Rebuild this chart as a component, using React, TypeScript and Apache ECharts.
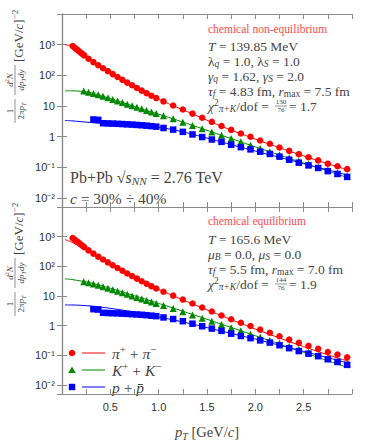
import React, { useEffect, useRef } from 'react';
import * as echarts from 'echarts';

// ---- experimental data (same in both panels) ----
const pionPt = [0.11, 0.13, 0.15, 0.17, 0.19, 0.21, 0.23, 0.275, 0.325, 0.375, 0.425, 0.475, 0.525, 0.575, 0.625, 0.675, 0.725, 0.775, 0.825, 0.875, 0.925, 0.975, 1.05, 1.15, 1.25, 1.35, 1.45, 1.55, 1.65, 1.75, 1.85, 1.95, 2.05, 2.15, 2.25, 2.35, 2.45, 2.55, 2.65, 2.75, 2.85, 2.95];
const pionYield = [900, 800, 710, 630, 560, 500, 445, 345, 268, 212, 170, 136, 109, 88, 71, 57.5, 47, 38.5, 31.5, 26, 21.5, 18, 14, 10.3, 7.6, 5.6, 4.1, 3.0, 2.2, 1.65, 1.26, 0.98, 0.74, 0.58, 0.44, 0.34, 0.265, 0.21, 0.166, 0.13, 0.107, 0.086];
const kaonPt = [0.225, 0.275, 0.325, 0.375, 0.425, 0.475, 0.525, 0.575, 0.625, 0.675, 0.725, 0.775, 0.825, 0.875, 0.925, 0.975, 1.05, 1.15, 1.25, 1.35, 1.45, 1.55, 1.65, 1.75, 1.85, 1.95, 2.05, 2.15, 2.25, 2.35, 2.45, 2.55, 2.65, 2.75, 2.85, 2.95];
const kaonYield = [30.5, 28, 25.5, 23, 20.5, 18.3, 16.3, 14.5, 12.9, 11.4, 10.1, 9.0, 8.0, 7.1, 6.3, 5.6, 4.8, 3.8, 2.95, 2.3, 1.8, 1.4, 1.09, 0.86, 0.67, 0.52, 0.41, 0.32, 0.255, 0.2, 0.16, 0.127, 0.1, 0.08, 0.064, 0.051];
const protonPt = [0.325, 0.375, 0.425, 0.475, 0.525, 0.575, 0.625, 0.675, 0.725, 0.775, 0.825, 0.875, 0.925, 0.975, 1.05, 1.15, 1.25, 1.35, 1.45, 1.55, 1.65, 1.75, 1.85, 1.95, 2.05, 2.15, 2.25, 2.35, 2.45, 2.55, 2.65, 2.75, 2.85, 2.95];
const protonYield = [3.6, 3.5, 2.72, 2.68, 2.64, 2.6, 2.55, 2.5, 2.45, 2.39, 2.33, 2.26, 2.18, 2.1, 1.9, 1.68, 1.42, 1.17, 0.96, 0.8, 0.67, 0.54, 0.45, 0.38, 0.32, 0.27, 0.22, 0.175, 0.14, 0.114, 0.094, 0.074, 0.06, 0.048];

// ---- model curves ----
const modelPt = [0.03, 0.1, 0.2, 0.3, 0.4, 0.5, 0.6, 0.7, 0.8, 0.9, 1.0, 1.1, 1.2, 1.3, 1.4, 1.5, 1.6, 1.7, 1.8, 1.9, 2.0, 2.1, 2.2, 2.3, 2.4, 2.5, 2.6, 2.7, 2.8, 2.9, 2.97];
// chemical non-equilibrium (top)
const pionModelNonEq = [1000, 880, 540, 300, 188, 121, 78, 51, 34.5, 23.6, 16.5, 11.9, 8.7, 6.4, 4.65, 3.4, 2.5, 1.86, 1.41, 1.08, 0.82, 0.63, 0.49, 0.38, 0.295, 0.232, 0.183, 0.145, 0.115, 0.092, 0.078];
const kaonModelNonEq = [31, 31, 30, 26.8, 21.8, 17.3, 13.7, 10.8, 8.5, 6.7, 5.35, 4.25, 3.35, 2.62, 2.05, 1.6, 1.24, 0.97, 0.76, 0.59, 0.46, 0.36, 0.28, 0.22, 0.172, 0.135, 0.106, 0.084, 0.066, 0.052, 0.045];
const protonModelNonEq = [3.35, 3.25, 3.05, 2.85, 2.7, 2.6, 2.5, 2.4, 2.3, 2.15, 2.0, 1.78, 1.54, 1.3, 1.08, 0.89, 0.73, 0.6, 0.49, 0.405, 0.335, 0.277, 0.23, 0.19, 0.157, 0.13, 0.107, 0.089, 0.074, 0.061, 0.054];
// chemical equilibrium (bottom)
const pionModelEq = [800, 650, 455, 300, 192, 124, 80, 52.5, 35, 24, 16.8, 12, 8.7, 6.35, 4.65, 3.42, 2.52, 1.86, 1.38, 1.03, 0.77, 0.58, 0.44, 0.335, 0.256, 0.197, 0.152, 0.118, 0.092, 0.073, 0.063];
const kaonModelEq = [38, 36, 32, 27.5, 22.7, 18.3, 14.6, 11.5, 9.1, 7.2, 5.65, 4.45, 3.5, 2.72, 2.12, 1.65, 1.28, 0.99, 0.77, 0.595, 0.46, 0.355, 0.274, 0.211, 0.163, 0.126, 0.097, 0.075, 0.058, 0.045, 0.038];
const protonModelEq = [5.0, 5.0, 4.85, 4.6, 4.25, 3.85, 3.45, 3.05, 2.65, 2.3, 1.98, 1.7, 1.45, 1.23, 1.04, 0.86, 0.72, 0.6, 0.5, 0.42, 0.355, 0.293, 0.242, 0.2, 0.165, 0.136, 0.112, 0.092, 0.076, 0.062, 0.054];

const RED = '#ff0000';
const GREEN = '#008800';
const BLUE = '#0000ff';
const AXIS = '#8a8a8a';
const TXT = '#444444';
const RED_TXT = '#ff4a4a';
const SERIF = "'Liberation Serif', 'DejaVu Serif', serif";
const SANS = "'Liberation Sans', Arial, sans-serif";

const supMap: Record<string, string> = { '3': '10³', '2': '10²', '1': '10', '0': '1', '-1': '10⁻¹', '-2': '10⁻²' };

function rich(fs: number, color: string) {
  const sub = Math.round(fs * 0.7 * 10) / 10;
  return {
    n: { fontFamily: SERIF, fontSize: fs, fill: color, lineHeight: fs + 3, verticalAlign: 'middle' },
    i: { fontFamily: SERIF, fontSize: fs, fill: color, fontStyle: 'italic', lineHeight: fs + 3, verticalAlign: 'middle' },
    sb: { fontFamily: SERIF, fontSize: sub, fill: color, fontStyle: 'italic', lineHeight: sub, verticalAlign: 'bottom' },
    sbn: { fontFamily: SERIF, fontSize: sub, fill: color, lineHeight: sub, verticalAlign: 'bottom' },
    sp: { fontFamily: SERIF, fontSize: sub, fill: color, lineHeight: sub, verticalAlign: 'top' },
    spi: { fontFamily: SERIF, fontSize: sub, fill: color, fontStyle: 'italic', lineHeight: sub, verticalAlign: 'top' },
  };
}

function txt(x: number, y: number, text: string, fs: number, color: string, align = 'left') {
  return {
    type: 'text',
    x,
    y,
    silent: true,
    style: { text, rich: rich(fs, color), fontFamily: SERIF, fontSize: fs, fill: color, align, verticalAlign: 'middle' },
  };
}

// small stacked fraction
function frac(cx: number, cy: number, num: string, den: string, fs: number) {
  return [
    { type: 'line', silent: true, shape: { x1: cx - 6, y1: cy, x2: cx + 6, y2: cy }, style: { stroke: TXT, lineWidth: 0.6 } },
    { type: 'text', x: cx, y: cy - 3.6, silent: true, style: { text: num, fontFamily: SERIF, fontSize: fs, fill: TXT, align: 'center', verticalAlign: 'middle' } },
    { type: 'text', x: cx, y: cy + 4.2, silent: true, style: { text: den, fontFamily: SERIF, fontSize: fs, fill: TXT, align: 'center', verticalAlign: 'middle' } },
  ];
}

function yTitle(x: number, y: number) {
  const fs = 9;
  return {
    type: 'group',
    x,
    y,
    rotation: Math.PI / 2,
    silent: true,
    children: [
      { type: 'line', shape: { x1: 1, y1: 0, x2: 25, y2: 0 }, style: { stroke: TXT, lineWidth: 0.6 } },
      { type: 'text', x: 13, y: -5, style: { text: '{n|1}', rich: rich(fs, TXT), align: 'center', verticalAlign: 'middle' } },
      { type: 'text', x: 13, y: 5.5, style: { text: '{n|2π}{i|p}{sb|T}', rich: rich(fs, TXT), align: 'center', verticalAlign: 'middle' } },
      { type: 'line', shape: { x1: 29, y1: 0, x2: 59, y2: 0 }, style: { stroke: TXT, lineWidth: 0.6 } },
      { type: 'text', x: 44, y: -5.5, style: { text: '{i|d}{sp|2}{i|N}', rich: rich(fs, TXT), align: 'center', verticalAlign: 'middle' } },
      { type: 'text', x: 44, y: 5.5, style: { text: '{i|dp}{sb|T}{i|dy}', rich: rich(fs, TXT), align: 'center', verticalAlign: 'middle' } },
      { type: 'text', x: 62, y: 3, style: { text: '{n|[GeV/}{i|c}{n|]}{sp|−2}', rich: rich(13, TXT), align: 'left', verticalAlign: 'middle' } },
    ],
  };
}

function legendRow(y: number, symbol: string, color: string, label: string) {
  const items: any[] = [];
  if (symbol === 'circle') items.push({ type: 'circle', shape: { cx: 72, cy: y, r: 3.3 }, style: { fill: color } });
  if (symbol === 'triangle') items.push({ type: 'polygon', shape: { points: [[72, y - 3.6], [75.8, y + 3], [68.2, y + 3]] }, style: { fill: color } });
  if (symbol === 'rect') items.push({ type: 'rect', shape: { x: 68.8, y: y - 3.2, width: 6.4, height: 6.4 }, style: { fill: color } });
  items.push({ type: 'line', shape: { x1: 82, y1: y, x2: 105, y2: y }, style: { stroke: color, lineWidth: 1 } });
  items.push(txt(112, y, label, 15.5, TXT));
  return items;
}

export default function App() {
  const ref = useRef<HTMLDivElement>(null);
  useEffect(() => {
    if (!ref.current) return;
    const chart = echarts.init(ref.current, undefined, { renderer: 'svg' });

    const xBase = (grid: number, pos: 'bottom' | 'top', labels: boolean) => ({
      type: 'value',
      gridIndex: grid,
      position: pos,
      min: 0,
      max: 3,
      interval: 0.25,
      axisLine: { show: true, onZero: false, lineStyle: { color: AXIS, width: 1.2 } },
      axisTick: { show: true, inside: true, length: 5, lineStyle: { color: AXIS, width: 1 } },
      splitLine: { show: false },
      axisLabel: {
        show: labels,
        margin: 7,
        color: '#333',
        fontFamily: SANS,
        fontSize: 11,
        formatter: (v: number) => {
          const k = Math.round(v * 4);
          if (k % 2 !== 0 || k === 0 || k === 12) return '';
          return v.toFixed(1);
        },
      },
    });
    const yBase = (grid: number, pos: 'left' | 'right', labels: boolean) => ({
      type: 'log',
      logBase: 10,
      gridIndex: grid,
      position: pos,
      min: 0.005,
      max: 10000,
      axisLine: { show: true, lineStyle: { color: AXIS, width: 1.2 } },
      axisTick: { show: true, inside: true, length: 5, lineStyle: { color: AXIS, width: 1 } },
      minorTick: { show: false },
      splitLine: { show: false },
      axisLabel: {
        show: labels,
        margin: 7,
        color: '#333',
        fontFamily: SANS,
        fontSize: 11,
        formatter: (v: number) => {
          const l = Math.log10(v);
          const e = Math.round(l);
          if (Math.abs(l - e) > 1e-6 || e > 3 || e < -2) return '';
          return supMap[String(e)];
        },
      },
    });

    const pairs = (xs: number[], ys: number[]) => xs.map((x, i) => [x, ys[i]]);
    const lineS = (xi: number, yi: number, ys: number[], color: string) => ({
      type: 'line',
      xAxisIndex: xi,
      yAxisIndex: yi,
      data: pairs(modelPt, ys),
      showSymbol: false,
      smooth: 0.3,
      lineStyle: { color, width: 1 },
      z: 2,
      silent: true,
    });
    const scat = (xi: number, yi: number, xs: number[], ys: number[], symbol: string, size: number, color: string) => ({
      type: 'scatter',
      xAxisIndex: xi,
      yAxisIndex: yi,
      data: pairs(xs, ys),
      symbol,
      symbolSize: size,
      itemStyle: { color, opacity: 1 },
      z: 3,
      silent: true,
    });

    const series: any[] = [];
    // top panel (grid 0): xAxis 0, yAxis 0
    series.push(lineS(0, 0, pionModelNonEq, RED));
    series.push(lineS(0, 0, kaonModelNonEq, GREEN));
    series.push(lineS(0, 0, protonModelNonEq, BLUE));
    series.push(scat(0, 0, pionPt, pionYield, 'circle', 6.5, RED));
    series.push(scat(0, 0, kaonPt, kaonYield, 'triangle', 7, GREEN));
    series.push(scat(0, 0, protonPt, protonYield, 'rect', 6.5, BLUE));
    // bottom panel (grid 1): xAxis 2, yAxis 2
    series.push(lineS(2, 2, pionModelEq, RED));
    series.push(lineS(2, 2, kaonModelEq, GREEN));
    series.push(lineS(2, 2, protonModelEq, BLUE));
    series.push(scat(2, 2, pionPt, pionYield, 'circle', 6.5, RED));
    series.push(scat(2, 2, kaonPt, kaonYield, 'triangle', 7, GREEN));
    series.push(scat(2, 2, protonPt, protonYield, 'rect', 6.5, BLUE));

    const bottomX: any = xBase(1, 'bottom', true);
    bottomX.name = '{i|p}{sb|T}{n| [GeV/}{i|c}{n|]}';
    bottomX.nameLocation = 'middle';
    bottomX.nameGap = 29;
    bottomX.nameTextStyle = {
      rich: {
        n: { fontFamily: SERIF, fontSize: 14.5, color: TXT, lineHeight: 18 },
        i: { fontFamily: SERIF, fontSize: 14.5, color: TXT, fontStyle: 'italic', lineHeight: 18 },
        sb: { fontFamily: SERIF, fontSize: 10, color: TXT, fontStyle: 'italic', lineHeight: 10, verticalAlign: 'bottom' },
      },
    };

    const M = 13.5;
    const graphic: any[] = [
      // top annotations
      txt(208, 29, '{n|chemical non-equilibrium}', 11.5, RED_TXT),
      txt(208, 46, '{i|T}{n| = 139.85 MeV}', M, TXT),
      txt(208, 61, '{n|λ}{sb|q}{n| = 1.0, λ}{sb|S}{n| = 1.0}', M, TXT),
      txt(208, 76, '{i|γ}{sb|q}{n| = 1.62, }{i|γ}{sb|S}{n| = 2.0}', M, TXT),
      txt(208, 91, '{i|τ}{sb|f}{n| = 4.83 fm, }{i|r}{sbn|max}{n| = 7.5 fm}', M, TXT),
      txt(208, 106, '{i|χ}{sp|2}{sb|π+K}{n|/dof =}', M, TXT),
      ...frac(281, 106, '130', '76', 7),
      txt(289, 106, '{n|= 1.7}', M, TXT),
      txt(70, 177, '{n|Pb+Pb }{n|√}{i|s}{sb|NN}{n| = 2.76 TeV}', 16, TXT),
      txt(70, 198, '{i|c}{n| = 30% ÷ 40%}', 15.5, TXT),
      // bottom annotations
      txt(208, 221, '{n|chemical equilibrium}', 11.5, RED_TXT),
      txt(208, 239, '{i|T}{n| = 165.6 MeV}', M, TXT),
      txt(208, 254, '{i|μ}{sb|B}{n| = 0.0, }{i|μ}{sb|S}{n| = 0.0}', M, TXT),
      txt(208, 269, '{i|τ}{sb|f}{n| = 5.5 fm, }{i|r}{sbn|max}{n| = 7.0 fm}', M, TXT),
      txt(208, 284, '{i|χ}{sp|2}{sb|π+K}{n|/dof =}', M, TXT),
      ...frac(281, 284, '144', '76', 7),
      txt(289, 284, '{n|= 1.9}', M, TXT),
      // y-axis titles
      yTitle(15, 124),
      yTitle(15, 317),
      // legend
      ...legendRow(353, 'circle', RED, '{i|π}{sp|+}{n| + }{i|π}{sp|−}'),
      ...legendRow(370, 'triangle', GREEN, '{i|K}{sp|+}{n| + }{i|K}{sp|−}'),
      ...legendRow(387, 'rect', BLUE, '{i|p}{n| + }{i|p̄}'),
    ];

    chart.setOption({
      animation: false,
      backgroundColor: '#ffffff',
      grid: [
        { left: 62, right: 22, top: 14, height: 193 },
        { left: 62, right: 22, top: 207, height: 192 },
      ],
      xAxis: [xBase(0, 'bottom', false), xBase(0, 'top', false), bottomX, xBase(1, 'top', false)],
      yAxis: [yBase(0, 'left', true), yBase(0, 'right', false), yBase(1, 'left', true), yBase(1, 'right', false)],
      series,
      graphic,
    });
    return () => chart.dispose();
  }, []);
  return <div ref={ref} style={{ position: 'absolute', left: 0, top: 0, width: 374, height: 442 }} />;
}
